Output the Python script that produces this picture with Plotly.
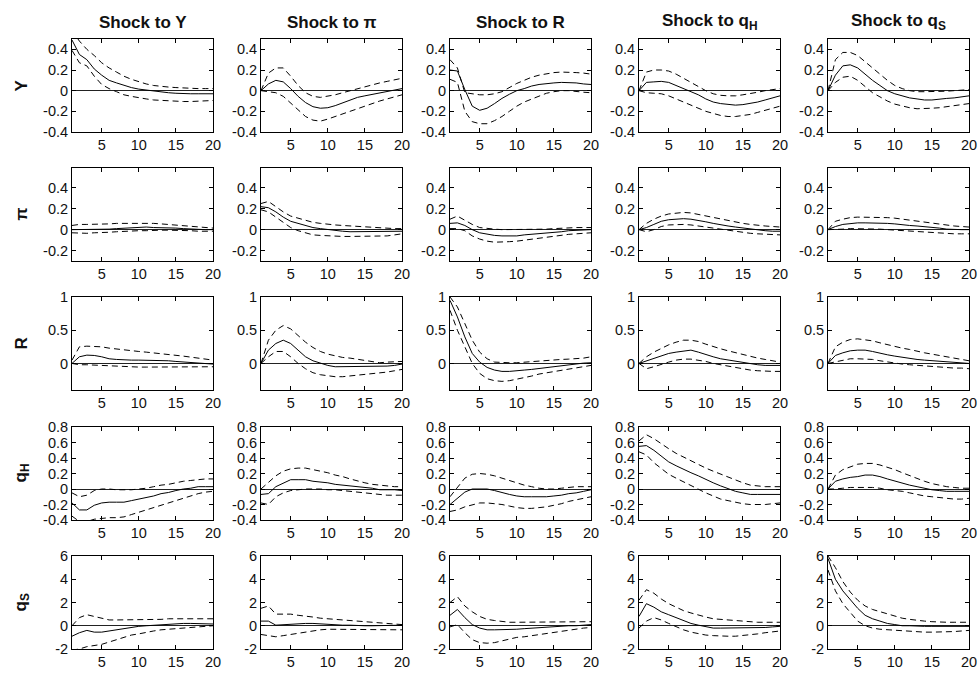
import plotly.graph_objects as go

horizon = list(range(1, 21))
shock_titles = ["Shock to Y", "Shock to π", "Shock to R", "Shock to q<sub>H</sub>", "Shock to q<sub>S</sub>"]
resp_labels = ["Y", "π", "R", "q<sub>H</sub>", "q<sub>S</sub>"]

# ---- Response of Y ----
Y_irf = [
    [0.49,0.35,0.30,0.21,0.15,0.10,0.075,0.05,0.03,0.015,0.005,-0.005,-0.015,-0.02,-0.025,-0.03,-0.03,-0.03,-0.03,-0.03],
    [0.0,0.065,0.10,0.085,0.02,-0.055,-0.115,-0.155,-0.17,-0.165,-0.145,-0.12,-0.09,-0.065,-0.05,-0.035,-0.02,-0.005,0.005,0.02],
    [0.2,0.19,0.01,-0.15,-0.19,-0.17,-0.125,-0.075,-0.035,0.0,0.02,0.045,0.06,0.07,0.075,0.08,0.08,0.075,0.065,0.06],
    [0,0.08,0.085,0.09,0.08,0.05,0.02,-0.01,-0.04,-0.08,-0.11,-0.125,-0.135,-0.14,-0.135,-0.125,-0.11,-0.09,-0.07,-0.05],
    [0,0.15,0.24,0.25,0.22,0.16,0.10,0.05,0.0,-0.03,-0.05,-0.07,-0.08,-0.09,-0.09,-0.08,-0.075,-0.07,-0.06,-0.05],
]
Y_lo = [
    [0.39,0.27,0.24,0.14,0.06,0.02,-0.01,-0.04,-0.055,-0.07,-0.08,-0.09,-0.095,-0.10,-0.10,-0.105,-0.105,-0.10,-0.10,-0.095],
    [0,-0.01,-0.02,-0.055,-0.12,-0.19,-0.25,-0.285,-0.295,-0.275,-0.25,-0.225,-0.195,-0.17,-0.15,-0.12,-0.10,-0.08,-0.06,-0.04],
    [0.11,0.08,-0.2,-0.3,-0.32,-0.32,-0.29,-0.25,-0.2,-0.15,-0.11,-0.08,-0.05,-0.025,-0.01,0.0,0.0,-0.01,-0.015,-0.02],
    [0,-0.02,-0.025,-0.03,-0.05,-0.08,-0.11,-0.14,-0.17,-0.2,-0.22,-0.24,-0.25,-0.25,-0.24,-0.23,-0.21,-0.19,-0.17,-0.15],
    [0,0.08,0.13,0.14,0.10,0.04,-0.02,-0.06,-0.10,-0.13,-0.15,-0.165,-0.175,-0.175,-0.17,-0.165,-0.155,-0.145,-0.135,-0.125],
]
Y_hi = [
    [0.58,0.48,0.40,0.34,0.27,0.22,0.18,0.14,0.11,0.085,0.065,0.05,0.04,0.035,0.03,0.025,0.025,0.02,0.02,0.02],
    [0,0.17,0.22,0.22,0.14,0.05,-0.02,-0.055,-0.065,-0.055,-0.04,-0.02,0.0,0.02,0.04,0.06,0.075,0.09,0.105,0.12],
    [0.3,0.22,-0.02,-0.03,-0.04,-0.04,-0.03,-0.01,0.03,0.07,0.10,0.13,0.15,0.165,0.175,0.18,0.18,0.175,0.17,0.16],
    [0,0.18,0.2,0.2,0.19,0.16,0.12,0.08,0.04,0.0,-0.03,-0.045,-0.05,-0.05,-0.04,-0.03,-0.015,0.0,0.01,0.02],
    [0,0.30,0.37,0.37,0.34,0.28,0.22,0.16,0.10,0.05,0.02,0.0,-0.01,-0.01,-0.01,-0.01,-0.005,0.0,0.005,0.01],
]

# ---- Response of pi ----
PI_irf = [
    [0.0,0.0,0.0,0.0,0.005,0.005,0.01,0.015,0.02,0.025,0.025,0.02,0.02,0.015,0.015,0.01,0.005,0.005,0.0,0.0],
    [0.22,0.21,0.17,0.12,0.08,0.06,0.04,0.02,0.01,0.0,-0.01,-0.015,-0.02,-0.02,-0.02,-0.02,-0.02,-0.02,-0.02,-0.015],
    [0.06,0.065,0.04,0.0,-0.03,-0.045,-0.055,-0.06,-0.06,-0.06,-0.05,-0.045,-0.04,-0.035,-0.025,-0.02,-0.01,-0.005,0.0,0.0],
    [0,0.02,0.05,0.08,0.095,0.1,0.105,0.1,0.09,0.075,0.06,0.045,0.035,0.025,0.015,0.005,-0.005,-0.01,-0.015,-0.015],
    [0,0.03,0.05,0.06,0.065,0.065,0.065,0.065,0.06,0.055,0.045,0.04,0.035,0.03,0.025,0.015,0.005,0.0,0.0,0.0],
]
PI_lo = [
    [-0.03,-0.035,-0.035,-0.03,-0.03,-0.025,-0.02,-0.015,-0.01,-0.01,-0.01,-0.005,-0.005,-0.005,-0.005,-0.01,-0.01,-0.015,-0.015,-0.015],
    [0.19,0.17,0.12,0.07,0.02,-0.01,-0.03,-0.05,-0.055,-0.06,-0.065,-0.065,-0.065,-0.065,-0.065,-0.065,-0.065,-0.06,-0.05,-0.04],
    [0.01,0.01,-0.01,-0.06,-0.09,-0.11,-0.12,-0.12,-0.115,-0.11,-0.10,-0.09,-0.08,-0.07,-0.06,-0.05,-0.045,-0.04,-0.035,-0.03],
    [0,-0.02,0.0,0.03,0.045,0.05,0.05,0.045,0.035,0.025,0.01,0.0,-0.01,-0.02,-0.025,-0.035,-0.04,-0.045,-0.05,-0.05],
    [0,0.0,0.005,0.01,0.01,0.01,0.01,0.005,0.0,-0.005,-0.01,-0.01,-0.015,-0.02,-0.025,-0.03,-0.035,-0.04,-0.04,-0.04],
]
PI_hi = [
    [0.04,0.05,0.05,0.05,0.05,0.055,0.06,0.06,0.065,0.065,0.065,0.06,0.055,0.05,0.045,0.04,0.03,0.025,0.02,0.015],
    [0.25,0.27,0.22,0.17,0.13,0.11,0.09,0.07,0.06,0.05,0.045,0.04,0.035,0.03,0.025,0.02,0.015,0.01,0.01,0.01],
    [0.10,0.13,0.09,0.05,0.02,0.01,0.005,0.0,0.0,0.0,0.0,0.0,0.0,0.005,0.01,0.015,0.02,0.02,0.02,0.02],
    [0,0.06,0.10,0.13,0.15,0.16,0.165,0.16,0.145,0.13,0.115,0.10,0.085,0.07,0.06,0.05,0.04,0.035,0.03,0.025],
    [0,0.08,0.10,0.115,0.12,0.12,0.12,0.12,0.115,0.11,0.10,0.09,0.08,0.07,0.06,0.05,0.04,0.035,0.03,0.025],
]

# ---- Response of R ----
R_irf = [
    [0.0,0.1,0.125,0.12,0.1,0.07,0.06,0.05,0.05,0.05,0.05,0.05,0.045,0.04,0.03,0.02,0.01,0.0,-0.005,-0.01],
    [0,0.2,0.3,0.35,0.3,0.2,0.1,0.04,0.0,-0.03,-0.05,-0.05,-0.05,-0.05,-0.05,-0.05,-0.05,-0.04,-0.03,-0.01],
    [0.95,0.7,0.4,0.15,0.02,-0.06,-0.1,-0.12,-0.12,-0.115,-0.1,-0.09,-0.075,-0.06,-0.05,-0.035,-0.02,0.0,0.005,0.01],
    [0,0.04,0.08,0.12,0.15,0.17,0.19,0.2,0.17,0.13,0.1,0.07,0.05,0.03,0.01,0.0,-0.02,-0.03,-0.03,-0.03],
    [0,0.12,0.16,0.19,0.2,0.2,0.18,0.15,0.13,0.11,0.09,0.08,0.06,0.05,0.04,0.03,0.02,0.01,0.0,0.0],
]
R_lo = [
    [0.0,-0.02,-0.02,-0.025,-0.03,-0.04,-0.05,-0.055,-0.055,-0.055,-0.055,-0.055,-0.055,-0.055,-0.05,-0.05,-0.05,-0.05,-0.05,-0.05],
    [0,0.1,0.18,0.18,0.1,0.0,-0.08,-0.14,-0.17,-0.19,-0.2,-0.2,-0.19,-0.18,-0.17,-0.16,-0.15,-0.13,-0.11,-0.09],
    [0.8,0.5,0.25,0.0,-0.15,-0.23,-0.26,-0.27,-0.26,-0.24,-0.21,-0.19,-0.16,-0.14,-0.12,-0.1,-0.08,-0.06,-0.045,-0.03],
    [0,-0.08,-0.05,-0.01,0.02,0.05,0.065,0.065,0.05,0.03,0.0,-0.02,-0.05,-0.07,-0.09,-0.1,-0.11,-0.12,-0.12,-0.12],
    [0,0.02,0.05,0.07,0.07,0.07,0.06,0.04,0.02,0.0,-0.01,-0.02,-0.03,-0.04,-0.05,-0.05,-0.06,-0.07,-0.07,-0.08],
]
R_hi = [
    [0.05,0.25,0.26,0.26,0.25,0.23,0.215,0.2,0.19,0.18,0.17,0.16,0.15,0.14,0.125,0.11,0.095,0.08,0.065,0.05],
    [0,0.35,0.5,0.57,0.52,0.42,0.32,0.24,0.18,0.14,0.11,0.09,0.08,0.06,0.04,0.02,0.01,0.02,0.03,0.03],
    [1.0,0.85,0.6,0.35,0.17,0.07,0.02,0.01,0.01,0.01,0.02,0.03,0.035,0.04,0.05,0.06,0.065,0.07,0.08,0.1],
    [0,0.1,0.17,0.23,0.28,0.32,0.35,0.35,0.33,0.29,0.25,0.22,0.19,0.16,0.13,0.1,0.08,0.06,0.04,0.02],
    [0,0.25,0.32,0.36,0.37,0.36,0.34,0.31,0.28,0.26,0.23,0.21,0.18,0.16,0.14,0.12,0.1,0.08,0.06,0.04],
]

# ---- Response of qH ----
QH_irf = [
    [-0.18,-0.27,-0.27,-0.21,-0.18,-0.17,-0.17,-0.17,-0.15,-0.13,-0.11,-0.09,-0.06,-0.045,-0.02,0.0,0.01,0.03,0.03,0.03],
    [-0.07,-0.06,0.03,0.08,0.12,0.12,0.12,0.1,0.09,0.08,0.06,0.05,0.04,0.03,0.02,0.01,-0.01,-0.01,-0.01,-0.02],
    [-0.2,-0.12,-0.04,0.0,0.0,0.0,-0.02,-0.05,-0.07,-0.09,-0.1,-0.1,-0.1,-0.1,-0.09,-0.08,-0.06,-0.05,-0.03,-0.01],
    [0.55,0.56,0.5,0.42,0.35,0.3,0.25,0.21,0.17,0.12,0.08,0.04,0.0,-0.03,-0.05,-0.07,-0.07,-0.07,-0.07,-0.07],
    [0.0,0.1,0.13,0.15,0.16,0.18,0.18,0.16,0.13,0.1,0.07,0.05,0.03,0.01,-0.01,-0.02,-0.03,-0.03,-0.03,-0.03],
]
QH_lo = [
    [-0.35,-0.42,-0.42,-0.39,-0.38,-0.37,-0.37,-0.36,-0.33,-0.3,-0.27,-0.24,-0.21,-0.18,-0.15,-0.12,-0.09,-0.06,-0.04,-0.03],
    [-0.18,-0.2,-0.1,-0.05,-0.02,-0.01,0.0,0.0,0.0,-0.01,-0.01,-0.02,-0.03,-0.04,-0.05,-0.06,-0.07,-0.08,-0.08,-0.08],
    [-0.29,-0.27,-0.23,-0.2,-0.18,-0.18,-0.19,-0.2,-0.22,-0.24,-0.25,-0.25,-0.24,-0.23,-0.21,-0.19,-0.16,-0.14,-0.12,-0.1],
    [0.48,0.44,0.34,0.26,0.19,0.14,0.09,0.04,-0.01,-0.05,-0.09,-0.13,-0.15,-0.17,-0.19,-0.2,-0.2,-0.2,-0.19,-0.18],
    [0.0,0.0,0.01,0.02,0.02,0.02,0.02,0.01,-0.01,-0.02,-0.03,-0.05,-0.07,-0.09,-0.1,-0.11,-0.12,-0.13,-0.13,-0.12],
]
QH_hi = [
    [-0.05,-0.1,-0.08,-0.02,0.0,0.0,-0.01,-0.01,-0.01,0.0,0.01,0.03,0.05,0.06,0.08,0.1,0.11,0.12,0.13,0.13],
    [0.0,0.08,0.17,0.23,0.26,0.27,0.27,0.25,0.23,0.21,0.18,0.16,0.13,0.1,0.08,0.06,0.05,0.04,0.03,0.03],
    [-0.1,0.02,0.14,0.19,0.2,0.19,0.17,0.14,0.11,0.08,0.05,0.03,0.01,0.0,0.0,0.01,0.02,0.03,0.03,0.03],
    [0.62,0.7,0.65,0.58,0.52,0.46,0.41,0.36,0.31,0.27,0.23,0.19,0.15,0.11,0.08,0.05,0.04,0.03,0.03,0.03],
    [0.0,0.18,0.25,0.29,0.32,0.33,0.33,0.31,0.28,0.25,0.21,0.17,0.14,0.1,0.07,0.05,0.03,0.02,0.01,0.01],
]

# ---- Response of qS ----
QS_irf = [
    [-0.9,-0.6,-0.4,-0.55,-0.55,-0.45,-0.35,-0.25,-0.1,-0.05,0.0,0.05,0.1,0.15,0.2,0.2,0.2,0.2,0.2,0.15],
    [0.4,0.4,0.05,0.1,0.15,0.2,0.2,0.2,0.15,0.1,0.05,0.05,0.05,0.0,0.0,0.0,0.0,0.0,0.0,0.05],
    [0.9,1.4,0.7,0.1,-0.2,-0.35,-0.35,-0.35,-0.35,-0.3,-0.25,-0.2,-0.15,-0.1,-0.05,0.0,0.0,0.0,0.05,0.1],
    [0.8,1.9,1.6,1.2,0.95,0.7,0.4,0.2,0.05,-0.1,-0.2,-0.2,-0.2,-0.2,-0.2,-0.2,-0.2,-0.15,-0.1,-0.05],
    [5.8,4.0,3.0,2.2,1.5,0.9,0.6,0.4,0.2,0.1,0.0,0.0,-0.05,-0.05,-0.05,-0.05,-0.05,-0.05,-0.05,-0.05],
]
QS_lo = [
    [-2.1,-2.0,-1.8,-1.7,-1.6,-1.4,-1.2,-1.0,-0.8,-0.7,-0.55,-0.45,-0.35,-0.3,-0.25,-0.2,-0.15,-0.1,-0.05,0.0],
    [-0.75,-0.85,-0.95,-0.85,-0.75,-0.6,-0.5,-0.4,-0.35,-0.3,-0.3,-0.3,-0.3,-0.3,-0.35,-0.35,-0.35,-0.35,-0.35,-0.35],
    [-0.1,0.1,-0.6,-1.2,-1.45,-1.5,-1.45,-1.3,-1.15,-1.0,-0.95,-0.85,-0.75,-0.65,-0.55,-0.45,-0.4,-0.3,-0.2,-0.15],
    [-0.2,0.4,0.7,0.5,0.2,-0.1,-0.35,-0.55,-0.7,-0.8,-0.85,-0.9,-0.9,-0.9,-0.85,-0.8,-0.7,-0.6,-0.55,-0.45],
    [4.8,3.0,1.9,1.1,0.4,0.0,-0.2,-0.3,-0.35,-0.4,-0.45,-0.5,-0.55,-0.55,-0.55,-0.55,-0.55,-0.5,-0.45,-0.4],
]
QS_hi = [
    [0.0,0.7,0.95,0.8,0.6,0.5,0.5,0.5,0.5,0.5,0.5,0.55,0.55,0.6,0.6,0.6,0.6,0.6,0.6,0.6],
    [1.5,1.7,1.0,1.0,1.0,0.9,0.85,0.75,0.65,0.6,0.5,0.45,0.4,0.35,0.3,0.25,0.2,0.15,0.1,0.1],
    [2.0,2.5,1.7,1.2,0.8,0.55,0.45,0.35,0.3,0.3,0.3,0.3,0.3,0.3,0.3,0.3,0.35,0.35,0.35,0.35],
    [2.2,3.1,2.8,2.3,1.9,1.6,1.3,1.1,0.9,0.75,0.6,0.55,0.45,0.4,0.35,0.3,0.3,0.3,0.3,0.3],
    [6.0,5.0,3.8,2.9,2.2,1.7,1.4,1.2,1.0,0.8,0.65,0.55,0.45,0.4,0.35,0.3,0.3,0.3,0.3,0.3],
]

row_irf = [Y_irf, PI_irf, R_irf, QH_irf, QS_irf]
row_lo = [Y_lo, PI_lo, R_lo, QH_lo, QS_lo]
row_hi = [Y_hi, PI_hi, R_hi, QH_hi, QS_hi]
row_ranges = [[-0.4, 0.5], [-0.3, 0.59], [-0.4, 1.0], [-0.4, 0.8], [-2, 6]]
row_ticks = [[-0.4, -0.2, 0, 0.2, 0.4], [-0.2, 0, 0.2, 0.4], [0, 0.5, 1],
             [-0.4, -0.2, 0, 0.2, 0.4, 0.6, 0.8], [-2, 0, 2, 4, 6]]
row_ticktext = [["-0.4", "-0.2", "0", "0.2", "0.4"], ["-0.2", "0", "0.2", "0.4"], ["0", "0.5", "1"],
                ["-0.4", "-0.2", "0", "0.2", "0.4", "0.6", "0.8"], ["-2", "0", "2", "4", "6"]]

W, H = 978, 674
col_left = [72, 261, 450, 639, 828]
col_w = 141
row_top = [39, 168, 297, 427, 556]
row_h = 93

FONT = "Liberation Sans, Arial, Helvetica, sans-serif"
fig = go.Figure()
layout = dict(
    width=W, height=H, margin=dict(l=0, r=0, t=0, b=0, autoexpand=False),
    paper_bgcolor="white", plot_bgcolor="white", showlegend=False,
    font=dict(family=FONT, size=14, color="#111"),
)

annotations = []
for r in range(5):
    for c in range(5):
        k = r * 5 + c + 1
        xa = "xaxis" if k == 1 else f"xaxis{k}"
        ya = "yaxis" if k == 1 else f"yaxis{k}"
        xref = "x" if k == 1 else f"x{k}"
        yref = "y" if k == 1 else f"y{k}"
        x0 = col_left[c] / W
        x1 = (col_left[c] + col_w) / W
        y1 = 1 - row_top[r] / H
        y0 = 1 - (row_top[r] + row_h) / H
        layout[xa] = dict(
            domain=[x0, x1], anchor=yref, range=[1, 20], automargin=False,
            tickvals=[5, 10, 15, 20], ticks="inside", ticklen=4, tickcolor="black",
            showline=True, linecolor="black", linewidth=1, mirror="ticks",
            showgrid=False, zeroline=False, tickfont=dict(size=14.5, color="#111"),
        )
        layout[ya] = dict(
            domain=[y0, y1], anchor=xref, range=row_ranges[r], automargin=False,
            tickvals=row_ticks[r], ticktext=row_ticktext[r],
            ticks="inside", ticklen=4, tickcolor="black",
            showline=True, linecolor="black", linewidth=1, mirror="ticks",
            showgrid=False, zeroline=True, zerolinecolor="#222", zerolinewidth=0.8,
            tickfont=dict(size=14.5, color="#111"),
        )
        for series, dash in ((row_hi[r][c], "6px,4px"), (row_lo[r][c], "6px,4px"), (row_irf[r][c], "solid")):
            fig.add_trace(go.Scatter(
                x=horizon, y=series, mode="lines", xaxis=xref, yaxis=yref,
                line=dict(color="black", width=1, dash=dash), hoverinfo="skip",
            ))

for c in range(5):
    annotations.append(dict(
        text=f"<b>{shock_titles[c]}</b>", x=(col_left[c] + col_w / 2) / W, y=1 - 22 / H,
        xref="paper", yref="paper", showarrow=False, xanchor="center", yanchor="middle",
        font=dict(family=FONT, size=17, color="#111"),
    ))
for r in range(5):
    annotations.append(dict(
        text=f"<b>{resp_labels[r]}</b>", x=21 / W, y=1 - (row_top[r] + row_h / 2) / H,
        xref="paper", yref="paper", showarrow=False, xanchor="center", yanchor="middle",
        textangle=-90, font=dict(family=FONT, size=17, color="#111"),
    ))
layout["annotations"] = annotations
fig.update_layout(**layout)

pin = ("document.body.style.margin='0';"
       "var gd=document.getElementById('{plot_id}');"
       "gd.style.position='fixed';gd.style.left='0px';gd.style.top='0px';")
fig.write_html("out.html", post_script=pin, config={"displayModeBar": False})
